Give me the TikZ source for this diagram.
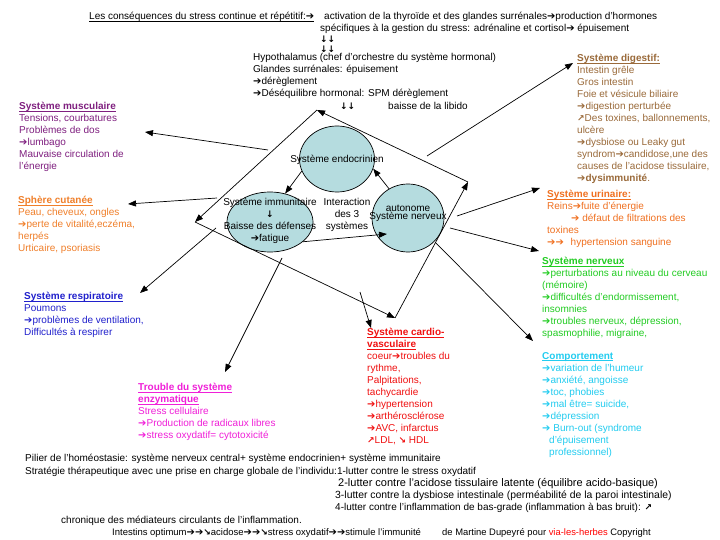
\documentclass[tikz,border=0pt]{standalone}
\usepackage{fontspec}
\setmainfont{Liberation Sans}
\newfontfamily\symfont{DejaVu Sans}
\usepackage{tikz}
\usetikzlibrary{shapes.geometric, arrows.meta, positioning, calc}
\definecolor{cMus}{HTML}{7F1F7F}
\definecolor{cCut}{HTML}{F07F2A}
\definecolor{cResp}{HTML}{2020CC}
\definecolor{cEnz}{HTML}{F020D8}
\definecolor{cCard}{HTML}{F01010}
\definecolor{cDig}{HTML}{9A6A3A}
\definecolor{cUri}{HTML}{F07020}
\definecolor{cNerv}{HTML}{22CC22}
\definecolor{cComp}{HTML}{22CCF0}
\definecolor{cCell}{HTML}{B5DCDF}
\newcommand{\rarr}{{\symfont\bfseries\fontsize{10}{12}\selectfont\iffontchar\font"2794 ➔\else{\mdseries ➔}\fi}}
\newcommand{\darr}{{\symfont\bfseries\fontsize{9}{12}\selectfont ↓}}
\newcommand{\nearr}{{\symfont\bfseries\fontsize{9}{12}\selectfont ↗}}
\newcommand{\searr}{{\symfont\bfseries\fontsize{9}{12}\selectfont ↘}}
\newcommand{\ulin}[1]{\setbox0=\hbox{#1}\rlap{\rule[-1.8pt]{\wd0}{0.6pt}}\box0}
\tikzset{
    block/.style={anchor=north west, align=left, inner sep=0pt, execute at begin node=\strut},
    midblock/.style={anchor=north, align=center, inner sep=0pt, execute at begin node=\strut},
    cell/.style={ellipse, draw=black, fill=cCell, line width=0.7pt, inner sep=0pt},
    arr/.style={-{Triangle[length=8pt,width=6pt]}, line width=0.7pt},
    wide/.style={font=\fontsize{11}{12}\selectfont},
    tiny/.style={font=\fontsize{9.4}{12}\selectfont}
}

\begin{document}
\begin{tikzpicture}[x=1pt, y=-1pt, font=\fontsize{10}{12}\selectfont]
    \useasboundingbox (0,0) rectangle (720,540);
    \fill[white] (0,0) rectangle (720,540);

    \node[block] (intro) at (89,11.1) {\ulin{Les conséquences du stress continue et répétitif:\rarr}};
    \node[block] (thyro) at (324,11.1) {activation de la thyroïde et des glandes surrénales\rarr production d'hormones};
    \node[block] (cortisol) at (320,23.1) {spécifiques à la gestion du stress: adrénaline et cortisol\rarr{} épuisement};
    \node[block] (down1) at (320,34.1) {\darr\darr};
    \node[block] (down2) at (320,44.1) {\darr\darr};
    \node[block] (hypo) at (253,53.1) {Hypothalamus (chef d'orchestre du système hormonal)\\Glandes surrénales: épuisement\\\rarr dérèglement\\\rarr Déséquilibre hormonal: SPM dérèglement};
    \node[block] (down3) at (340,101.1) {\darr\darr};
    \node[block] (libido) at (388,101.1) {baisse de la libido};

    \node[block, text=cMus] (muscle) at (19,102.1) {\ulin{\textbf{Système musculaire}}\\Tensions, courbatures\\Problèmes de dos\\\rarr lumbago\\Mauvaise circulation de\\l'énergie};
    \node[block, text=cCut] (skin) at (18,196.1) {\ulin{\textbf{Sphère cutanée}}\\Peau, cheveux, ongles\\\rarr perte de vitalité,eczéma,\\herpés\\Urticaire, psoriasis};
    \node[block, text=cResp] (lung) at (24,292.1) {\ulin{\textbf{Système respiratoire}}\\Poumons\\\rarr problèmes de ventilation,\\Difficultés à respirer};
    \node[block, text=cEnz] (enzyme) at (138,383.1) {\ulin{\textbf{Trouble du système}}\\\ulin{\textbf{enzymatique}}\\Stress cellulaire\\\rarr Production de radicaux libres\\\rarr stress oxydatif= cytotoxicité};
    \node[block, text=cCard] (heart) at (367,328.1) {\ulin{\textbf{Système cardio-}}\\\ulin{\textbf{vasculaire}}\\coeur\rarr troubles du\\rythme,\\Palpitations,\\tachycardie\\\rarr hypertension\\\rarr arthérosclérose\\\rarr AVC, infarctus\\\nearr LDL, \searr{} HDL};
    \node[block, text=cDig] (gut) at (577,54.1) {\ulin{\textbf{Système digestif:}}\\Intestin grêle\\Gros intestin\\Foie et vésicule biliaire\\\rarr digestion perturbée\\\nearr Des toxines, ballonnements,\\ulcère\\\rarr dysbiose ou Leaky gut\\syndrom\rarr candidose,une des\\causes de l'acidose tissulaire,\\\rarr\textbf{dysimmunité}.};
    \node[block, text=cUri] (kidney) at (547,190.1) {\ulin{\textbf{Système urinaire:}}\\Reins\rarr fuite d'énergie\\\hspace*{24pt}\rarr{} défaut de filtrations des\\toxines\\\rarr\rarr{}\hspace{4pt} hypertension sanguine};
    \node[block, text=cNerv] (nerves) at (542,257.1) {\ulin{\textbf{Système nerveux}}\\\rarr perturbations au niveau du cerveau\\(mémoire)\\\rarr difficultés d'endormissement,\\insomnies\\\rarr troubles nerveux, dépression,\\spasmophilie, migraine,};
    \node[block, text=cComp] (mood) at (542,352.1) {\ulin{\textbf{Comportement}}\\\rarr variation de l'humeur\\\rarr anxiété, angoisse\\\rarr toc, phobies\\\rarr mal être= suicide,\\\rarr dépression\\\rarr{} Burn-out (syndrome\\\hspace*{7pt}d'épuisement\\\hspace*{7pt}professionnel)};

    \node[cell, minimum width=75pt, minimum height=66pt] (endo) at (337,159) {};
    \node[cell, minimum width=86pt, minimum height=60pt] (immu) at (270,222) {};
    \node[cell, minimum width=72pt, minimum height=68pt] (nerv) at (408,218) {};

    \coordinate (sqTop) at (317,110);
    \coordinate (sqLeft) at (195,222);
    \coordinate (sqBot) at (395,318);
    \coordinate (sqRight) at (468,182);
    \draw[arr] (sqRight) -- (sqTop);
    \draw[arr] (sqTop) -- (sqLeft);
    \draw[arr] (sqLeft) -- (sqBot);
    \draw[arr] (sqBot) -- (sqRight);

    \draw[arr] (endo.199) -- (immu.62);
    \draw[arr] (immu.-31) -- ($(nerv.center)+(-21,16)$);
    \draw[arr] (nerv.123) -- (endo.-15);

    \coordinate (muscleFrom) at (268,150);
    \coordinate (muscleTip) at (145,132);
    \coordinate (skinFrom) at (217,198);
    \coordinate (skinTip) at (128,204);
    \coordinate (lungFrom) at (216,228);
    \coordinate (lungTip) at (140,293);
    \coordinate (enzymeFrom) at (282,258);
    \coordinate (enzymeTip) at (225,372);
    \coordinate (heartFrom) at (360,292);
    \coordinate (heartTip) at (371,328);
    \coordinate (moodFrom) at (435,242);
    \coordinate (moodTip) at (533,341);
    \coordinate (nervesFrom) at (450,228);
    \coordinate (nervesTip) at (539,251);
    \coordinate (kidneyFrom) at (457,216);
    \coordinate (kidneyTip) at (540,188);
    \coordinate (gutFrom) at (427,156);
    \coordinate (gutTip) at (573,63);
    \draw[arr] (muscleFrom) -- (muscleTip);
    \draw[arr] (skinFrom) -- (skinTip);
    \draw[arr] (lungFrom) -- (lungTip);
    \draw[arr] (enzymeFrom) -- (enzymeTip);
    \draw[arr] (heartFrom) -- (heartTip);
    \draw[arr] (moodFrom) -- (moodTip);
    \draw[arr] (nervesFrom) -- (nervesTip);
    \draw[arr] (kidneyFrom) -- (kidneyTip);
    \draw[arr] (gutFrom) -- (gutTip);

    \node[anchor=base] (endoTxt) at (337,162.5) {Système endocrinien};
    \node[midblock] (immuTxt) at (270,198.1) {Système immunitaire\\\darr\\Baisse des défenses\\\rarr fatigue};
    \node[anchor=base] (autoTxt) at (408,211.5) {autonome};
    \node[anchor=base] (nervTxt) at (408,219.5) {Système nerveux};
    \node[midblock] (interTxt) at (347,198.1) {Interaction\\des 3\\systèmes};

    \node[block] (pilier) at (25,453.1) {Pilier de l'homéostasie: système nerveux central+ système endocrinien+ système immunitaire};
    \node[block] (strat) at (25,466.1) {Stratégie thérapeutique avec une prise en charge globale de l'individu:1-lutter contre le stress oxydatif};
    \node[block, wide] (acid) at (338,478.1) {2-lutter contre l'acidose tissulaire latente (équilibre acido-basique)};
    \node[block, font=\fontsize{10.4}{12}\selectfont] (dysb) at (335,490.1) {3-lutter contre la dysbiose intestinale (perméabilité de la paroi intestinale)};
    \node[block] (inflam) at (335,502.1) {4-lutter contre l'inflammation de bas-grade (inflammation à bas bruit): \nearr};
    \node[block] (chron) at (61,515.1) {chronique des médiateurs circulants de l'inflammation.};
    \node[block, font=\fontsize{9.5}{12}\selectfont] (chain) at (112,527.1) {Intestins optimum\rarr\rarr\searr acidose\rarr\rarr\searr stress oxydatif\rarr\rarr stimule l'immunité};
    \node[block, tiny] (credit) at (442,527.1) {de Martine Dupeyré pour \textcolor{red}{via-les-herbes} Copyright};
\end{tikzpicture}
\end{document}
